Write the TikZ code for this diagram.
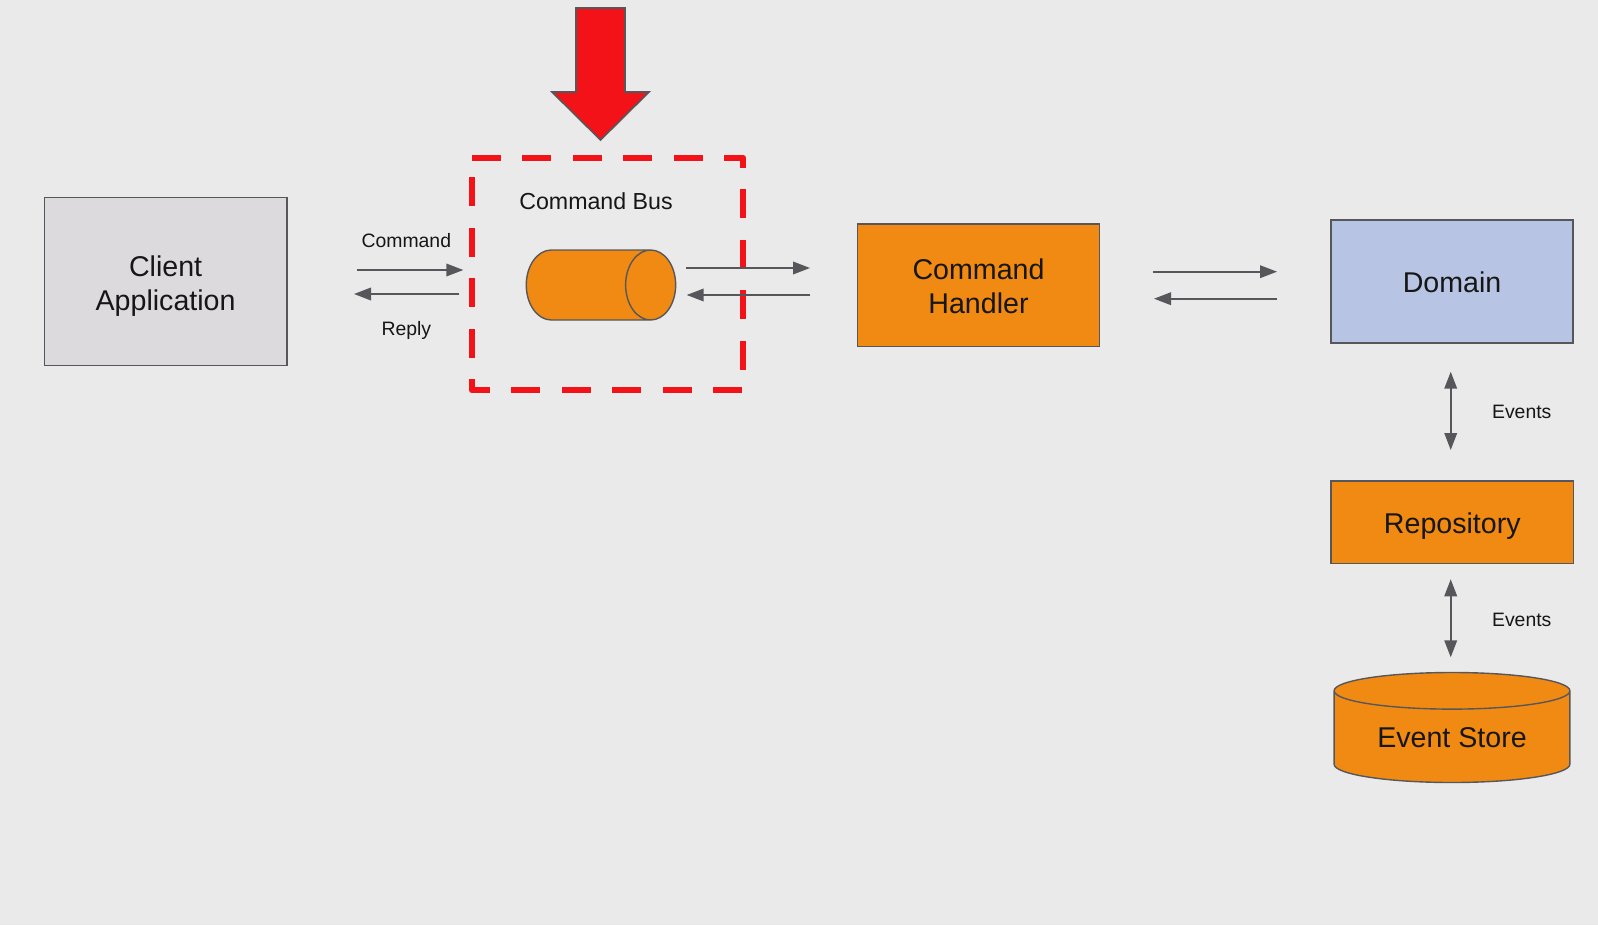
\documentclass[tikz,border=0pt]{standalone}
\usepackage{fontspec}
\setmainfont{Liberation Sans}
\usetikzlibrary{arrows.meta,shapes.geometric}
\definecolor{bggrey}{HTML}{EAEAEB}
\definecolor{linegrey}{HTML}{57575B}
\definecolor{clientgrey}{HTML}{DCDADC}
\definecolor{busorange}{HTML}{F08A12}
\definecolor{domainblue}{HTML}{B7C4E4}
\definecolor{alertred}{HTML}{F21218}
\definecolor{inkblack}{HTML}{161616}
\tikzset{
  boxnode/.style={draw=linegrey,line width=0.7pt,inner sep=0pt,outer sep=0pt,align=center,
    text=inkblack,font=\fontsize{14.3}{17.2}\selectfont,text depth=0pt},
  onerow/.style={text height=11.2pt},
  tworow/.style={text height=28.4pt},
  drum/.style={boxnode,cylinder,fill=busorange},
  smalltext/.style={anchor=base,text=inkblack,inner sep=0pt,font=\fontsize{9.7}{12}\selectfont},
  flow/.style={draw=linegrey,line width=0.85pt,-{Triangle[length=8.5pt,width=6.3pt]}},
  twoway/.style={draw=linegrey,line width=0.85pt,{Triangle[length=8.5pt,width=6.3pt]}-{Triangle[length=8.5pt,width=6.3pt]}},
}
\begin{document}
\begin{tikzpicture}[x=0.5pt,y=-0.5pt]
\fill[bggrey] (0,0) rectangle (1598,925);
\useasboundingbox (0,0) rectangle (1598,925);

\node[boxnode,text height=29.4pt,fill=clientgrey,minimum width=121.3pt,minimum height=84.2pt] (client) at (165.6,281.5) {Client\\Application};
\node[boxnode,tworow,fill=busorange,minimum width=121pt,minimum height=61.3pt] (handler) at (978.5,285.4) {Command\\Handler};
\node[boxnode,onerow,fill=domainblue,minimum width=121pt,minimum height=61.5pt] (domain) at (1452,281.5) {Domain};
\node[boxnode,onerow,fill=busorange,minimum width=121.3pt,minimum height=41.3pt] (repo) at (1452.3,522.3) {Repository};
\node[drum,text height=10.2pt,shape border rotate=90,aspect=0.245,minimum width=117.9pt,minimum height=55pt] (store) at (1452,737) {Event Store};
\node[drum,text height=9pt,aspect=2.78,minimum width=35pt,minimum height=74.7pt] (bus) at (588.1,285) {};

\draw[alertred,line width=3.4pt,line join=round,dash pattern=on 14.5pt off 10.7pt] (472,158) -- (743,158) -- (743,390) -- (472,390) -- cycle;
\draw[draw=linegrey,line width=0.8pt,fill=alertred] (576,8) -- (625,8) -- (625,92) -- (649,92) -- (600.5,140) -- (552,92) -- (576,92) -- cycle;

\node[smalltext,font=\fontsize{11.6}{14}\selectfont] (buslabel) at (596,210) {Command Bus};
\node[smalltext] (cmdlabel) at (406.3,247) {Command};
\node[smalltext] (replylabel) at (406.3,335.5) {Reply};
\node[smalltext] (eventsup) at (1521.7,418.7) {Events};
\node[smalltext] (eventsdown) at (1521.7,626.3) {Events};

\coordinate (cmdfrom) at (357.3,270);
\coordinate (cmdto) at (463.3,270);
\coordinate (replyfrom) at (459.3,294);
\coordinate (replyto) at (354,294);
\coordinate (busout) at (686,268);
\coordinate (handlerin) at (810,268);
\coordinate (handlerout) at (810.3,295);
\coordinate (busin) at (686.7,295);
\coordinate (domainin) at (1277,271.7);
\coordinate (handlerto) at (1153,271.7);
\coordinate (domainout) at (1277.4,298.7);
\coordinate (handlerback) at (1154,298.7);
\coordinate (domainlow) at (1450.7,371.7);
\coordinate (repohigh) at (1450.7,450);
\coordinate (repolow) at (1450.7,579.3);
\coordinate (storehigh) at (1450.7,657.3);

\draw[flow] (cmdfrom) -- (cmdto);
\draw[flow] (replyfrom) -- (replyto);
\draw[flow] (busout) -- (handlerin);
\draw[flow] (handlerout) -- (busin);
\draw[flow] (handlerto) -- (domainin);
\draw[flow] (domainout) -- (handlerback);
\draw[twoway] (domainlow) -- (repohigh);
\draw[twoway] (repolow) -- (storehigh);

\end{tikzpicture}
\end{document}
